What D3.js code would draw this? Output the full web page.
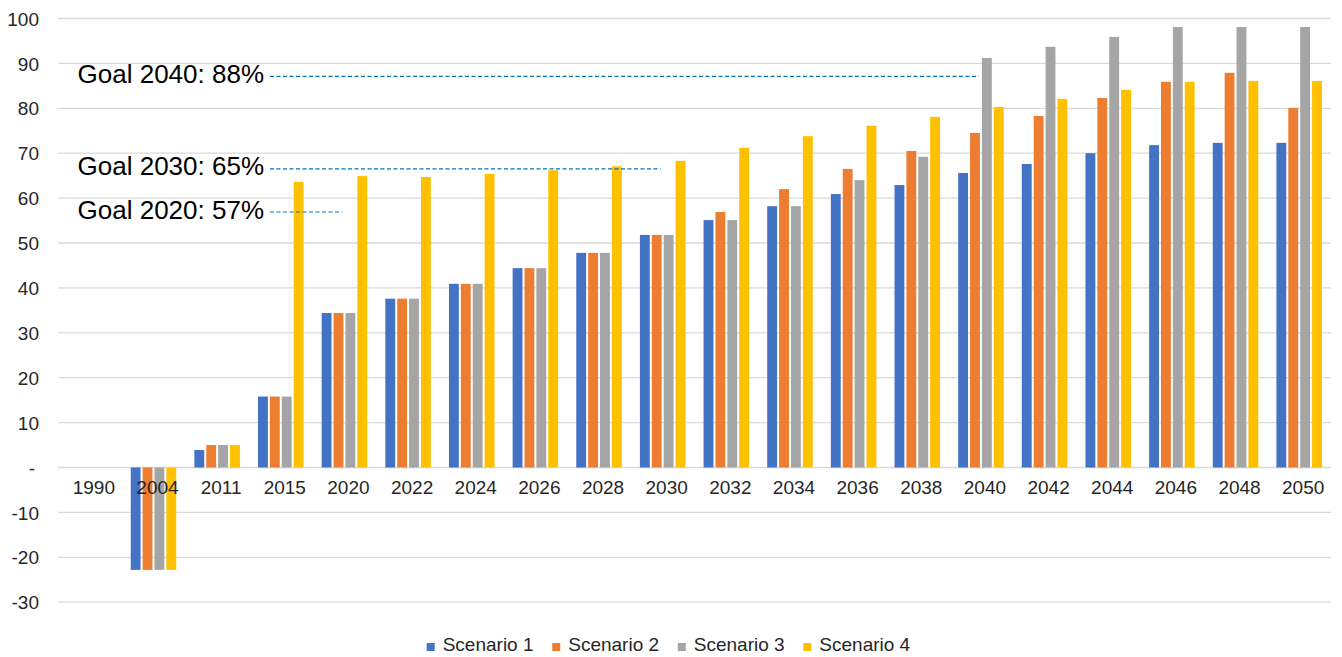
<!DOCTYPE html>
<html>
<head>
<meta charset="utf-8">
<script src="https://cdn.jsdelivr.net/npm/d3@7"></script>
<style>
  body { margin: 0; background: #fff; }
  text { font-family: "Liberation Sans", Arial, sans-serif; }
</style>
</head>
<body>
<div id="main"></div>
<script>
const years = ["1990", "2004", "2011", "2015", "2020", "2022", "2024", "2026", "2028", "2030",
  "2032", "2034", "2036", "2038", "2040", "2042", "2044", "2046", "2048", "2050"];

const scenario1 = [0, -22.8, 3.9, 15.8, 34.4, 37.6, 40.9, 44.4, 47.8, 51.8, 55.1, 58.2, 60.9, 62.9, 65.6, 67.6, 70.0, 71.8, 72.3, 72.3];
const scenario2 = [0, -22.8, 5.0, 15.8, 34.4, 37.6, 40.9, 44.4, 47.8, 51.8, 56.9, 62.0, 66.5, 70.5, 74.5, 78.3, 82.3, 85.9, 87.9, 80.1];
const scenario3 = [0, -22.8, 5.0, 15.8, 34.4, 37.6, 40.9, 44.4, 47.8, 51.8, 55.1, 58.2, 64.0, 69.2, 91.2, 93.7, 95.9, 98.1, 98.1, 98.1];
const scenario4 = [0, -22.8, 5.0, 63.6, 64.9, 64.7, 65.4, 66.2, 67.1, 68.3, 71.2, 73.8, 76.1, 78.1, 80.3, 82.1, 84.1, 85.9, 86.1, 86.1];

const seriesNames = ["Scenario 1", "Scenario 2", "Scenario 3", "Scenario 4"];
const seriesColors = ["#4472C4", "#ED7D31", "#A5A5A5", "#FFC000"];

const yTicks = [-30, -20, -10, 0, 10, 20, 30, 40, 50, 60, 70, 80, 90, 100];

// goal annotations: label, year where the dashed line ends, height of the line
const goalLabels = ["Goal 2020: 57%", "Goal 2030: 65%", "Goal 2040: 88%"];
const goalYears = ["2020", "2030", "2040"];
const goalLineAt = [56.9, 66.5, 87.1];

const c = {width: 1342, height: 657, left: 58, right: 11, top: 18.5, zero: 467.5, bottom: 602.2};

const svg = d3.select("#main")
  .append("svg")
  .attr("width", c.width)
  .attr("height", c.height);

const rows = years.map((y, i) => ({
  year: y,
  values: [scenario1[i], scenario2[i], scenario3[i], scenario4[i]]
}));

const x0 = d3.scaleBand()
  .domain(years)
  .range([c.left, c.width - c.right])
  .paddingInner(0.285)
  .paddingOuter(0.1425);

const x1 = d3.scaleBand()
  .domain(d3.range(seriesNames.length))
  .range([0, x0.bandwidth()])
  .paddingInner(0.17);

const y = d3.scaleLinear()
  .domain([-30, 100])
  .range([c.bottom, c.top]);

const color = d3.scaleOrdinal().domain(d3.range(4)).range(seriesColors);

// gridlines + y labels
const yAxis = d3.axisLeft(y)
  .tickValues(yTicks)
  .tickSize(0)
  .tickPadding(0)
  .tickFormat(d => d === 0 ? "-" : d);

svg.append("g")
  .attr("transform", `translate(${c.left},0)`)
  .call(g => g.append("g")
    .selectAll("line")
    .data(yTicks)
    .join("line")
    .attr("x1", 0)
    .attr("x2", c.width - c.right - c.left)
    .attr("y1", d => y(d))
    .attr("y2", d => y(d))
    .attr("stroke", "#d9d9d9")
    .attr("stroke-width", 1.3))
  .call(g => g.append("g").call(yAxis)
    .call(a => a.select(".domain").remove())
    .call(a => a.selectAll("text")
      .attr("x", d => d === 0 ? -23 : -19)
      .attr("dy", "0.35em")
      .attr("fill", "#262626")
      .style("font-size", "19px")
      .style("font-family", "'Liberation Sans', Arial, sans-serif")));

// bars
svg.append("g")
  .selectAll("g")
  .data(rows)
  .join("g")
  .attr("transform", d => `translate(${x0(d.year)},0)`)
  .selectAll("rect")
  .data(d => d.values.map((v, i) => ({i, v})))
  .join("rect")
  .attr("x", d => x1(d.i))
  .attr("width", x1.bandwidth())
  .attr("y", d => y(Math.max(0, d.v)))
  .attr("height", d => Math.abs(y(d.v) - y(0)))
  .attr("fill", d => color(d.i));

// category labels
const xAxis = d3.axisBottom(x0).tickSize(0).tickPadding(0);
svg.append("g")
  .attr("transform", `translate(4,${y(0)})`)
  .call(xAxis)
  .call(g => g.select(".domain").remove())
  .call(g => g.selectAll("text")
    .attr("y", 26)
    .attr("dy", 0)
    .attr("fill", "#262626")
    .style("font-size", "19px")
    .style("font-family", "'Liberation Sans', Arial, sans-serif"));

// goal annotations
const goals = goalLabels.map((t, i) => ({label: t, year: goalYears[i], at: goalLineAt[i]}));
const ann = svg.append("g");
ann.selectAll("line")
  .data(goals)
  .join("line")
  .attr("x1", 270)
  .attr("x2", d => x0(d.year) + x0.bandwidth() / 2 - 2)
  .attr("y1", d => y(d.at))
  .attr("y2", d => y(d.at))
  .attr("stroke", "#0070C0")
  .attr("stroke-width", 1.2)
  .attr("stroke-dasharray", "4,2.5");
ann.selectAll("text")
  .data(goals)
  .join("text")
  .attr("x", 264)
  .attr("y", d => y(d.at) + 6.5)
  .attr("text-anchor", "end")
  .attr("fill", "#000")
  .style("font-size", "26px")
  .text(d => d.label);

// legend, laid out one item after the other
const legend = svg.append("g").attr("transform", "translate(426.7,651)");
let lx = 0;
seriesNames.forEach((name, i) => {
  const item = legend.append("g").attr("transform", `translate(${lx},0)`);
  item.append("rect")
    .attr("x", 0)
    .attr("y", -8)
    .attr("width", 8)
    .attr("height", 8)
    .attr("fill", seriesColors[i]);
  const t = item.append("text")
    .attr("x", 16)
    .attr("y", 0)
    .attr("fill", "#262626")
    .style("font-size", "19px")
    .text(name);
  lx += 16 + t.node().getComputedTextLength() + 18.7;
});
</script>
</body>
</html>
